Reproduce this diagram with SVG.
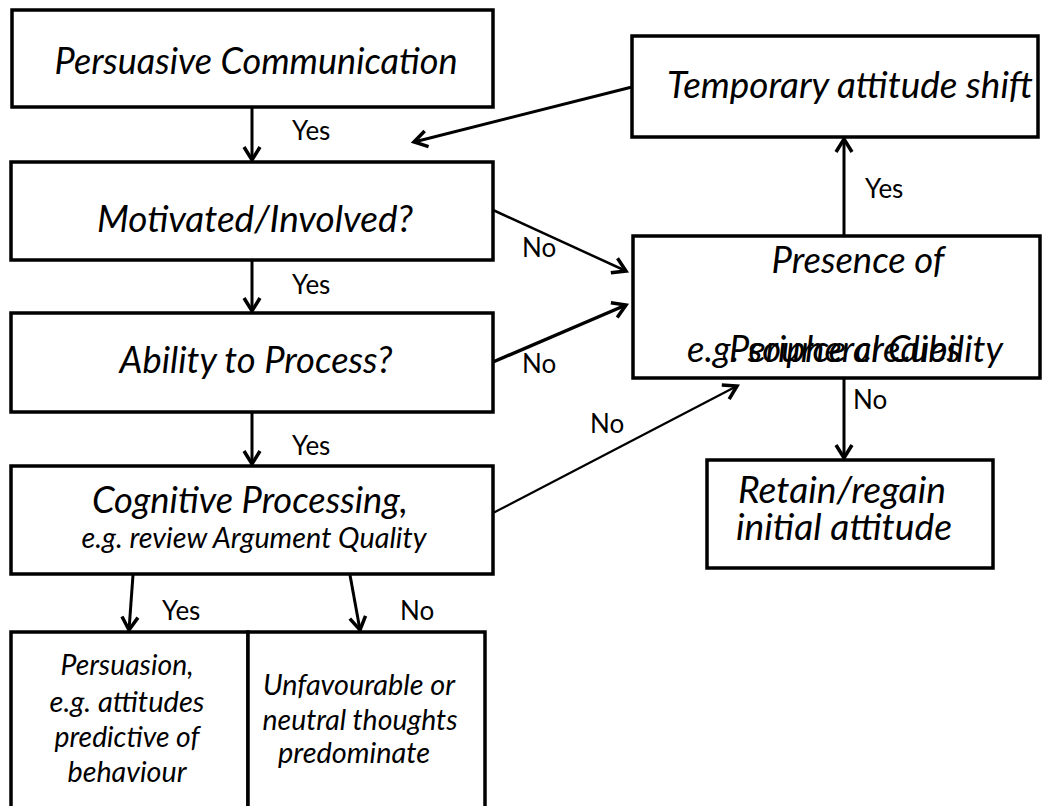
<svg xmlns="http://www.w3.org/2000/svg" width="1048" height="806" viewBox="0 0 1048 806">
<style>
.box{fill:#fff;stroke:#000;stroke-width:3.5}
.t{font-family:Lato,"Open Sans","Liberation Sans",sans-serif;font-style:italic;font-size:36px;fill:#000;text-anchor:middle}
.s{font-size:29px}
.lbl{font-family:Lato,"Open Sans","Liberation Sans",sans-serif;font-size:26px;fill:#000}
.c{stroke:#000;stroke-width:3;fill:none;marker-end:url(#ah)}
</style>
<defs>
<marker id="ah" markerUnits="userSpaceOnUse" viewBox="-16 -10 20 20" refX="0" refY="0" markerWidth="20" markerHeight="20" orient="auto">
<path d="M-13,-8 L0,0 L-13,8" fill="none" stroke="#000" stroke-width="3.5"/>
</marker>
</defs>
<rect width="1048" height="806" fill="#fff"/>
<g id="connectors">
<line class="c" x1="252" y1="107" x2="252" y2="160"/>
<line class="c" x1="252" y1="260" x2="252" y2="311"/>
<line class="c" x1="252" y1="412" x2="252" y2="464"/>
<line class="c" x1="632" y1="87" x2="414" y2="142"/>
<line class="c" x1="493" y1="210" x2="626" y2="271" style="stroke-width:2.5"/>
<line class="c" x1="493" y1="362" x2="626" y2="305" style="stroke-width:3.5"/>
<line class="c" x1="493" y1="513" x2="737" y2="386" style="stroke-width:2.2"/>
<line class="c" x1="844" y1="236" x2="844" y2="139"/>
<line class="c" x1="844" y1="378" x2="844" y2="458"/>
<line class="c" x1="133" y1="575" x2="129" y2="630"/>
<line class="c" x1="350" y1="575" x2="360" y2="630"/>
<text class="lbl" x="292" y="140">Yes</text>
<text class="lbl" x="292" y="294">Yes</text>
<text class="lbl" x="292" y="455">Yes</text>
<text class="lbl" x="522" y="257">No</text>
<text class="lbl" x="522" y="373">No</text>
<text class="lbl" x="590" y="433">No</text>
<text class="lbl" x="865" y="198">Yes</text>
<text class="lbl" x="853" y="409">No</text>
<text class="lbl" x="162" y="620">Yes</text>
<text class="lbl" x="400" y="620">No</text>
</g>
<g id="persuasive-communication">
<rect class="box" x="12" y="10" width="481" height="97"/>
<text class="t" x="256" y="74" textLength="403" lengthAdjust="spacingAndGlyphs">Persuasive Communication</text>
</g>
<g id="motivated">
<rect class="box" x="11" y="162" width="482" height="98"/>
<text class="t" x="255" y="232" textLength="316" lengthAdjust="spacingAndGlyphs">Motivated/Involved?</text>
</g>
<g id="ability">
<rect class="box" x="11" y="313" width="482" height="99"/>
<text class="t" x="256" y="373" textLength="273" lengthAdjust="spacingAndGlyphs">Ability to Process?</text>
</g>
<g id="cognitive">
<rect class="box" x="11" y="466" width="482" height="108"/>
<text class="t" x="250" y="513" textLength="316" lengthAdjust="spacingAndGlyphs">Cognitive Processing,</text>
<text class="t s" x="254" y="548" textLength="345" lengthAdjust="spacingAndGlyphs">e.g. review Argument Quality</text>
</g>
<g id="temporary">
<rect class="box" x="632" y="36" width="406" height="101"/>
<text class="t" x="850" y="98" textLength="366" lengthAdjust="spacingAndGlyphs">Temporary attitude shift</text>
</g>
<g id="peripheral">
<rect class="box" x="633" y="236" width="407" height="142"/>
<text class="t" x="858" y="273" textLength="173" lengthAdjust="spacingAndGlyphs">Presence of</text>
<text class="t" x="845" y="362" textLength="232" lengthAdjust="spacingAndGlyphs">Peripheral Cues</text>
<text class="t" x="845" y="362" textLength="316" lengthAdjust="spacingAndGlyphs">e.g. source credibility</text>
</g>
<g id="retain">
<rect class="box" x="707" y="460" width="286" height="108"/>
<text class="t" x="842" y="503" textLength="208" lengthAdjust="spacingAndGlyphs">Retain/regain</text>
<text class="t" x="844" y="540" textLength="216" lengthAdjust="spacingAndGlyphs">initial attitude</text>
</g>
<g id="persuasion">
<rect class="box" x="11" y="632" width="237" height="200"/>
<text class="t s" x="127" y="675" textLength="133" lengthAdjust="spacingAndGlyphs">Persuasion,</text>
<text class="t s" x="127" y="712" textLength="155" lengthAdjust="spacingAndGlyphs">e.g. attitudes</text>
<text class="t s" x="127" y="747" textLength="145" lengthAdjust="spacingAndGlyphs">predictive of</text>
<text class="t s" x="127" y="782" textLength="119" lengthAdjust="spacingAndGlyphs">behaviour</text>
</g>
<g id="unfavourable">
<rect class="box" x="248" y="632" width="237" height="200"/>
<text class="t s" x="359" y="695" textLength="192" lengthAdjust="spacingAndGlyphs">Unfavourable or</text>
<text class="t s" x="360" y="730" textLength="195" lengthAdjust="spacingAndGlyphs">neutral thoughts</text>
<text class="t s" x="354" y="763" textLength="152" lengthAdjust="spacingAndGlyphs">predominate</text>
</g>
</svg>
